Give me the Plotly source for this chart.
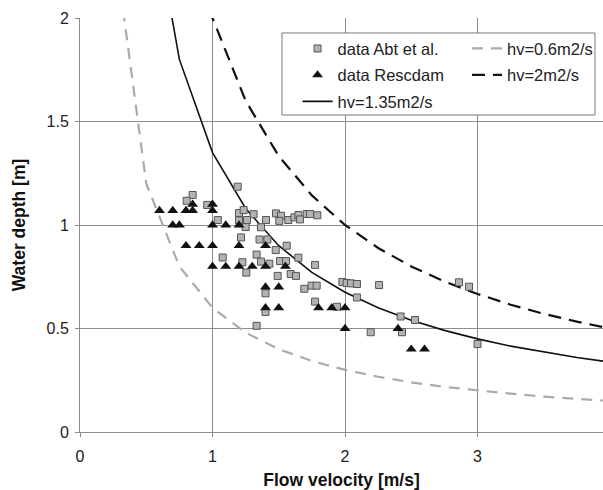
import plotly.graph_objects as go

# Measured data (velocity [m/s], depth [m])
abt_v = [1.19, 0.85, 0.805, 0.96, 1.04, 1.20, 1.235, 1.31, 1.20, 1.26, 1.25, 1.215, 1.077, 1.225,
         1.255, 1.333, 1.355, 1.414, 1.404, 1.479, 1.517, 1.504, 1.572, 1.618, 1.648, 1.66, 1.711,
         1.736, 1.791, 1.366, 1.477, 1.56, 1.366, 1.429, 1.51, 1.555, 1.648, 1.774, 1.492, 1.59,
         1.63, 1.693, 1.748, 1.786, 1.98, 2.013, 2.045, 2.09, 2.09, 1.40, 1.774, 1.40, 1.94, 1.333,
         2.257, 2.42, 2.528, 2.194, 2.43, 2.86, 2.936, 3.0]
abt_h = [1.185, 1.145, 1.117, 1.097, 1.024, 1.058, 1.072, 1.052, 1.022, 1.024, 0.99, 0.94, 0.843, 0.82,
         0.77, 0.857, 0.93, 0.93, 1.024, 1.056, 1.045, 1.02, 1.024, 1.037, 1.048, 1.027, 1.053,
         1.053, 1.047, 0.989, 0.879, 0.90, 0.823, 0.813, 0.826, 0.826, 0.842, 0.807, 0.754, 0.763,
         0.754, 0.692, 0.707, 0.707, 0.725, 0.72, 0.718, 0.715, 0.65, 0.67, 0.63, 0.58, 0.605, 0.513,
         0.71, 0.558, 0.541, 0.482, 0.482, 0.723, 0.702, 0.425]

resc_v = [0.85, 1.0, 0.6, 0.7, 0.8, 0.85, 1.0, 0.7, 0.75, 1.0, 1.1, 1.2, 0.8, 0.9, 1.0, 1.2, 1.4,
          1.0, 1.1, 1.2, 1.3, 1.4, 1.55, 1.4, 1.5, 1.4, 1.5, 1.8, 1.9, 2.0, 2.0, 2.4, 2.5, 2.6]
resc_h = [1.1, 1.1, 1.07, 1.07, 1.07, 1.07, 1.07, 1.0, 1.0, 1.0, 1.0, 1.0, 0.9, 0.9, 0.9, 0.9, 0.9,
          0.8, 0.8, 0.8, 0.8, 0.8, 0.8, 0.7, 0.7, 0.6, 0.6, 0.6, 0.6, 0.6, 0.5, 0.5, 0.4, 0.4]

# Model curves hv = const (points read at 0.25 m/s steps)
curve_v = [0.25, 0.5, 0.75, 1.0, 1.25, 1.5, 1.75, 2.0, 2.25, 2.5, 2.75, 3.0, 3.25, 3.5, 3.75, 4.0]
h_06 = [2.4, 1.2, 0.8, 0.6, 0.48, 0.4, 0.343, 0.3, 0.267, 0.24, 0.218, 0.2, 0.185, 0.171, 0.16, 0.15]
h_135 = [5.4, 2.7, 1.8, 1.35, 1.08, 0.9, 0.771, 0.675, 0.6, 0.54, 0.491, 0.45, 0.415, 0.386, 0.36, 0.3375]
h_2 = [8.0, 4.0, 2.667, 2.0, 1.6, 1.333, 1.143, 1.0, 0.889, 0.8, 0.727, 0.667, 0.615, 0.571, 0.533, 0.5]

x_ticks = [0, 1, 2, 3]
y_ticks = [0, 0.5, 1, 1.5, 2]
y_tick_labels = ["0", "0.5", "1", "1.5", "2"]

FONT = "Liberation Sans, Arial, sans-serif"
GRID = "#8c8c8c"

fig = go.Figure()
fig.add_trace(go.Scatter(x=curve_v, y=h_06, mode="lines", name="hv=0.6m2/s",
                         line=dict(color="#ababab", width=2.2, dash="11px,8px"),
                         legend="legend2", legendgroup="a"))
fig.add_trace(go.Scatter(x=curve_v, y=h_2, mode="lines", name="hv=2m2/s",
                         line=dict(color="#111111", width=2.2, dash="13px,8px"),
                         legend="legend2", legendgroup="b"))
fig.add_trace(go.Scatter(x=curve_v, y=h_135, mode="lines", name="hv=1.35m2/s",
                         line=dict(color="#111111", width=1.6),
                         legend="legend", legendgroup="c", legendrank=3))
fig.add_trace(go.Scatter(x=abt_v, y=abt_h, mode="markers", name="data Abt et al.",
                         marker=dict(symbol="square", size=7, color="#b3b3b3",
                                     line=dict(color="#555555", width=1)),
                         legend="legend", legendgroup="d", legendrank=1))
fig.add_trace(go.Scatter(x=resc_v, y=resc_h, mode="markers", name="data Rescdam",
                         marker=dict(symbol="triangle-up", size=9.5, color="#111111",
                                     line=dict(width=0)),
                         legend="legend", legendgroup="e", legendrank=2))

axis_common = dict(showgrid=True, gridcolor=GRID, gridwidth=1, showline=True, linecolor=GRID,
                   linewidth=1, ticks="outside", ticklen=4, tickcolor=GRID, zeroline=False,
                   tickfont=dict(family=FONT, size=16, color="#222222"))

fig.update_layout(
    width=603, height=490,
    margin=dict(l=80, r=0, t=18, b=58),
    plot_bgcolor="white", paper_bgcolor="white",
    font=dict(family=FONT, size=16, color="#222222"),
    xaxis=dict(range=[0, 3.947], tickvals=x_ticks, ticklabelstandoff=6,
               title=dict(text="<b>Flow velocity [m/s]</b>", font=dict(family=FONT, size=17.5, color="#111111"),
                          standoff=9),
               **axis_common),
    yaxis=dict(range=[0, 2], tickvals=y_ticks, ticktext=y_tick_labels, ticklabelstandoff=3,
               title=dict(text="<b>Water depth [m]</b>", font=dict(family=FONT, size=17.5, color="#111111"),
                          standoff=16),
               **axis_common),
    legend=dict(x=0.416, y=0.968, xanchor="left", yanchor="top", bgcolor="rgba(0,0,0,0)",
                font=dict(family=FONT, size=16.5, color="#222222"), tracegroupgap=2,
                traceorder="grouped"),
    legend2=dict(x=0.74, y=0.968, xanchor="left", yanchor="top", bgcolor="rgba(0,0,0,0)",
                 font=dict(family=FONT, size=16.5, color="#222222"), tracegroupgap=2),
    shapes=[dict(type="rect", xref="paper", yref="paper", x0=0.3862, x1=0.9847, y0=0.7657, y1=0.9638,
                 line=dict(color="#777777", width=1), fillcolor="white", layer="above")],
    showlegend=True,
)

fig.write_html("out.html", config={"displayModeBar": False},
               post_script="document.body.style.margin='0';")
